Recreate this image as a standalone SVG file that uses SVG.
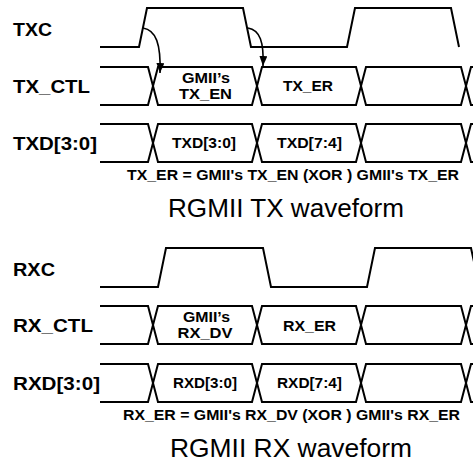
<svg xmlns="http://www.w3.org/2000/svg" width="473" height="462" viewBox="0 0 473 462">
  <style>
    .w { fill: none; stroke: #000; stroke-width: 2; stroke-linejoin: miter; }
    .lbl { font-family: "Liberation Sans", Arial, sans-serif; font-weight: bold; font-size: 19px; fill: #000; }
    .bx { font-family: "Liberation Sans", Arial, sans-serif; font-weight: bold; font-size: 15px; fill: #000; text-anchor: middle; }
    .eq { font-family: "Liberation Sans", Arial, sans-serif; font-weight: bold; font-size: 14.5px; fill: #000; text-anchor: middle; }
    .ttl { font-family: "Liberation Sans", Arial, sans-serif; font-size: 25px; fill: #000; text-anchor: middle; }
    .arr { fill: none; stroke: #000; stroke-width: 1.6; }
  </style>
  <defs>
    <marker id="ah" viewBox="0 0 10 8" refX="10" refY="4" markerWidth="10" markerHeight="8" orient="auto" markerUnits="userSpaceOnUse">
      <path d="M0,0 L10,4 L0,8 z" fill="#000"/>
    </marker>
  </defs>
  <rect width="473" height="462" fill="#fff"/>

  <!-- TX section -->
  <g id="txc">
    <text class="lbl" x="13" y="36" textLength="39" lengthAdjust="spacingAndGlyphs">TXC</text>
    <path class="w" d="M100,47 H139 L147,8 H243 L251,47 H347 L355,8 H451 L459,47"/>
  </g>
  <g id="tx_ctl">
    <text class="lbl" x="13" y="93" textLength="77" lengthAdjust="spacingAndGlyphs">TX_CTL</text>
    <path class="w" d="M100,67 H148 L158,105 H252 L262,67 H356 L366,105 H461 L471,67 H474"/>
    <path class="w" d="M100,105 H148 L158,67 H252 L262,105 H356 L366,67 H461 L471,105 H474"/>
    <text class="bx" x="206" y="83" textLength="48" lengthAdjust="spacingAndGlyphs">GMII’s</text>
    <text class="bx" x="205.5" y="99" textLength="53" lengthAdjust="spacingAndGlyphs">TX_EN</text>
    <text class="bx" x="308" y="91" textLength="50" lengthAdjust="spacingAndGlyphs">TX_ER</text>
  </g>
  <g id="txd">
    <text class="lbl" x="13" y="150" textLength="84" lengthAdjust="spacingAndGlyphs">TXD[3:0]</text>
    <path class="w" d="M100,124 H148 L158,162 H252 L262,124 H356 L366,162 H461 L471,124 H474"/>
    <path class="w" d="M100,162 H148 L158,124 H252 L262,162 H356 L366,124 H461 L471,162 H474"/>
    <text class="bx" x="204" y="148" textLength="64" lengthAdjust="spacingAndGlyphs">TXD[3:0]</text>
    <text class="bx" x="309.5" y="148" textLength="65" lengthAdjust="spacingAndGlyphs">TXD[7:4]</text>
  </g>
  <g id="tx_caption">
    <text class="eq" x="293" y="180" textLength="332" lengthAdjust="spacingAndGlyphs">TX_ER = GMII's TX_EN (XOR ) GMII's TX_ER</text>
    <text class="ttl" x="286" y="217" textLength="236" lengthAdjust="spacingAndGlyphs">RGMII TX waveform</text>
  </g>

  <!-- RX section -->
  <g id="rxc">
    <text class="lbl" x="13" y="276" textLength="42" lengthAdjust="spacingAndGlyphs">RXC</text>
    <path class="w" d="M100,287 H158 L166,248 H263 L271,287 H367 L375,248 H471 L474,262"/>
  </g>
  <g id="rx_ctl">
    <text class="lbl" x="13" y="332" textLength="80" lengthAdjust="spacingAndGlyphs">RX_CTL</text>
    <path class="w" d="M100,306 H148 L158,344 H252 L262,306 H356 L366,344 H461 L471,306 H474"/>
    <path class="w" d="M100,344 H148 L158,306 H252 L262,344 H356 L366,306 H461 L471,344 H474"/>
    <text class="bx" x="206.5" y="322" textLength="47" lengthAdjust="spacingAndGlyphs">GMII’s</text>
    <text class="bx" x="205" y="338" textLength="55" lengthAdjust="spacingAndGlyphs">RX_DV</text>
    <text class="bx" x="309.5" y="331" textLength="53" lengthAdjust="spacingAndGlyphs">RX_ER</text>
  </g>
  <g id="rxd">
    <text class="lbl" x="13" y="390" textLength="87" lengthAdjust="spacingAndGlyphs">RXD[3:0]</text>
    <path class="w" d="M100,364 H148 L158,402 H252 L262,364 H356 L366,402 H461 L471,364 H474"/>
    <path class="w" d="M100,402 H148 L158,364 H252 L262,402 H356 L366,364 H461 L471,402 H474"/>
    <text class="bx" x="205" y="388" textLength="64" lengthAdjust="spacingAndGlyphs">RXD[3:0]</text>
    <text class="bx" x="309.5" y="388" textLength="65" lengthAdjust="spacingAndGlyphs">RXD[7:4]</text>
  </g>
  <g id="rx_caption">
    <text class="eq" x="291.5" y="420" textLength="337" lengthAdjust="spacingAndGlyphs">RX_ER = GMII's RX_DV (XOR ) GMII's RX_ER</text>
    <text class="ttl" x="291" y="457" textLength="242" lengthAdjust="spacingAndGlyphs">RGMII RX waveform</text>
  </g>

  <!-- connectors -->
  <g id="connectors">
    <path class="arr" d="M143,28 C156,30 161,44 160,73" marker-end="url(#ah)"/>
    <path class="arr" d="M248,28 C260,30 264,42 263,66" marker-end="url(#ah)"/>
  </g>
</svg>
